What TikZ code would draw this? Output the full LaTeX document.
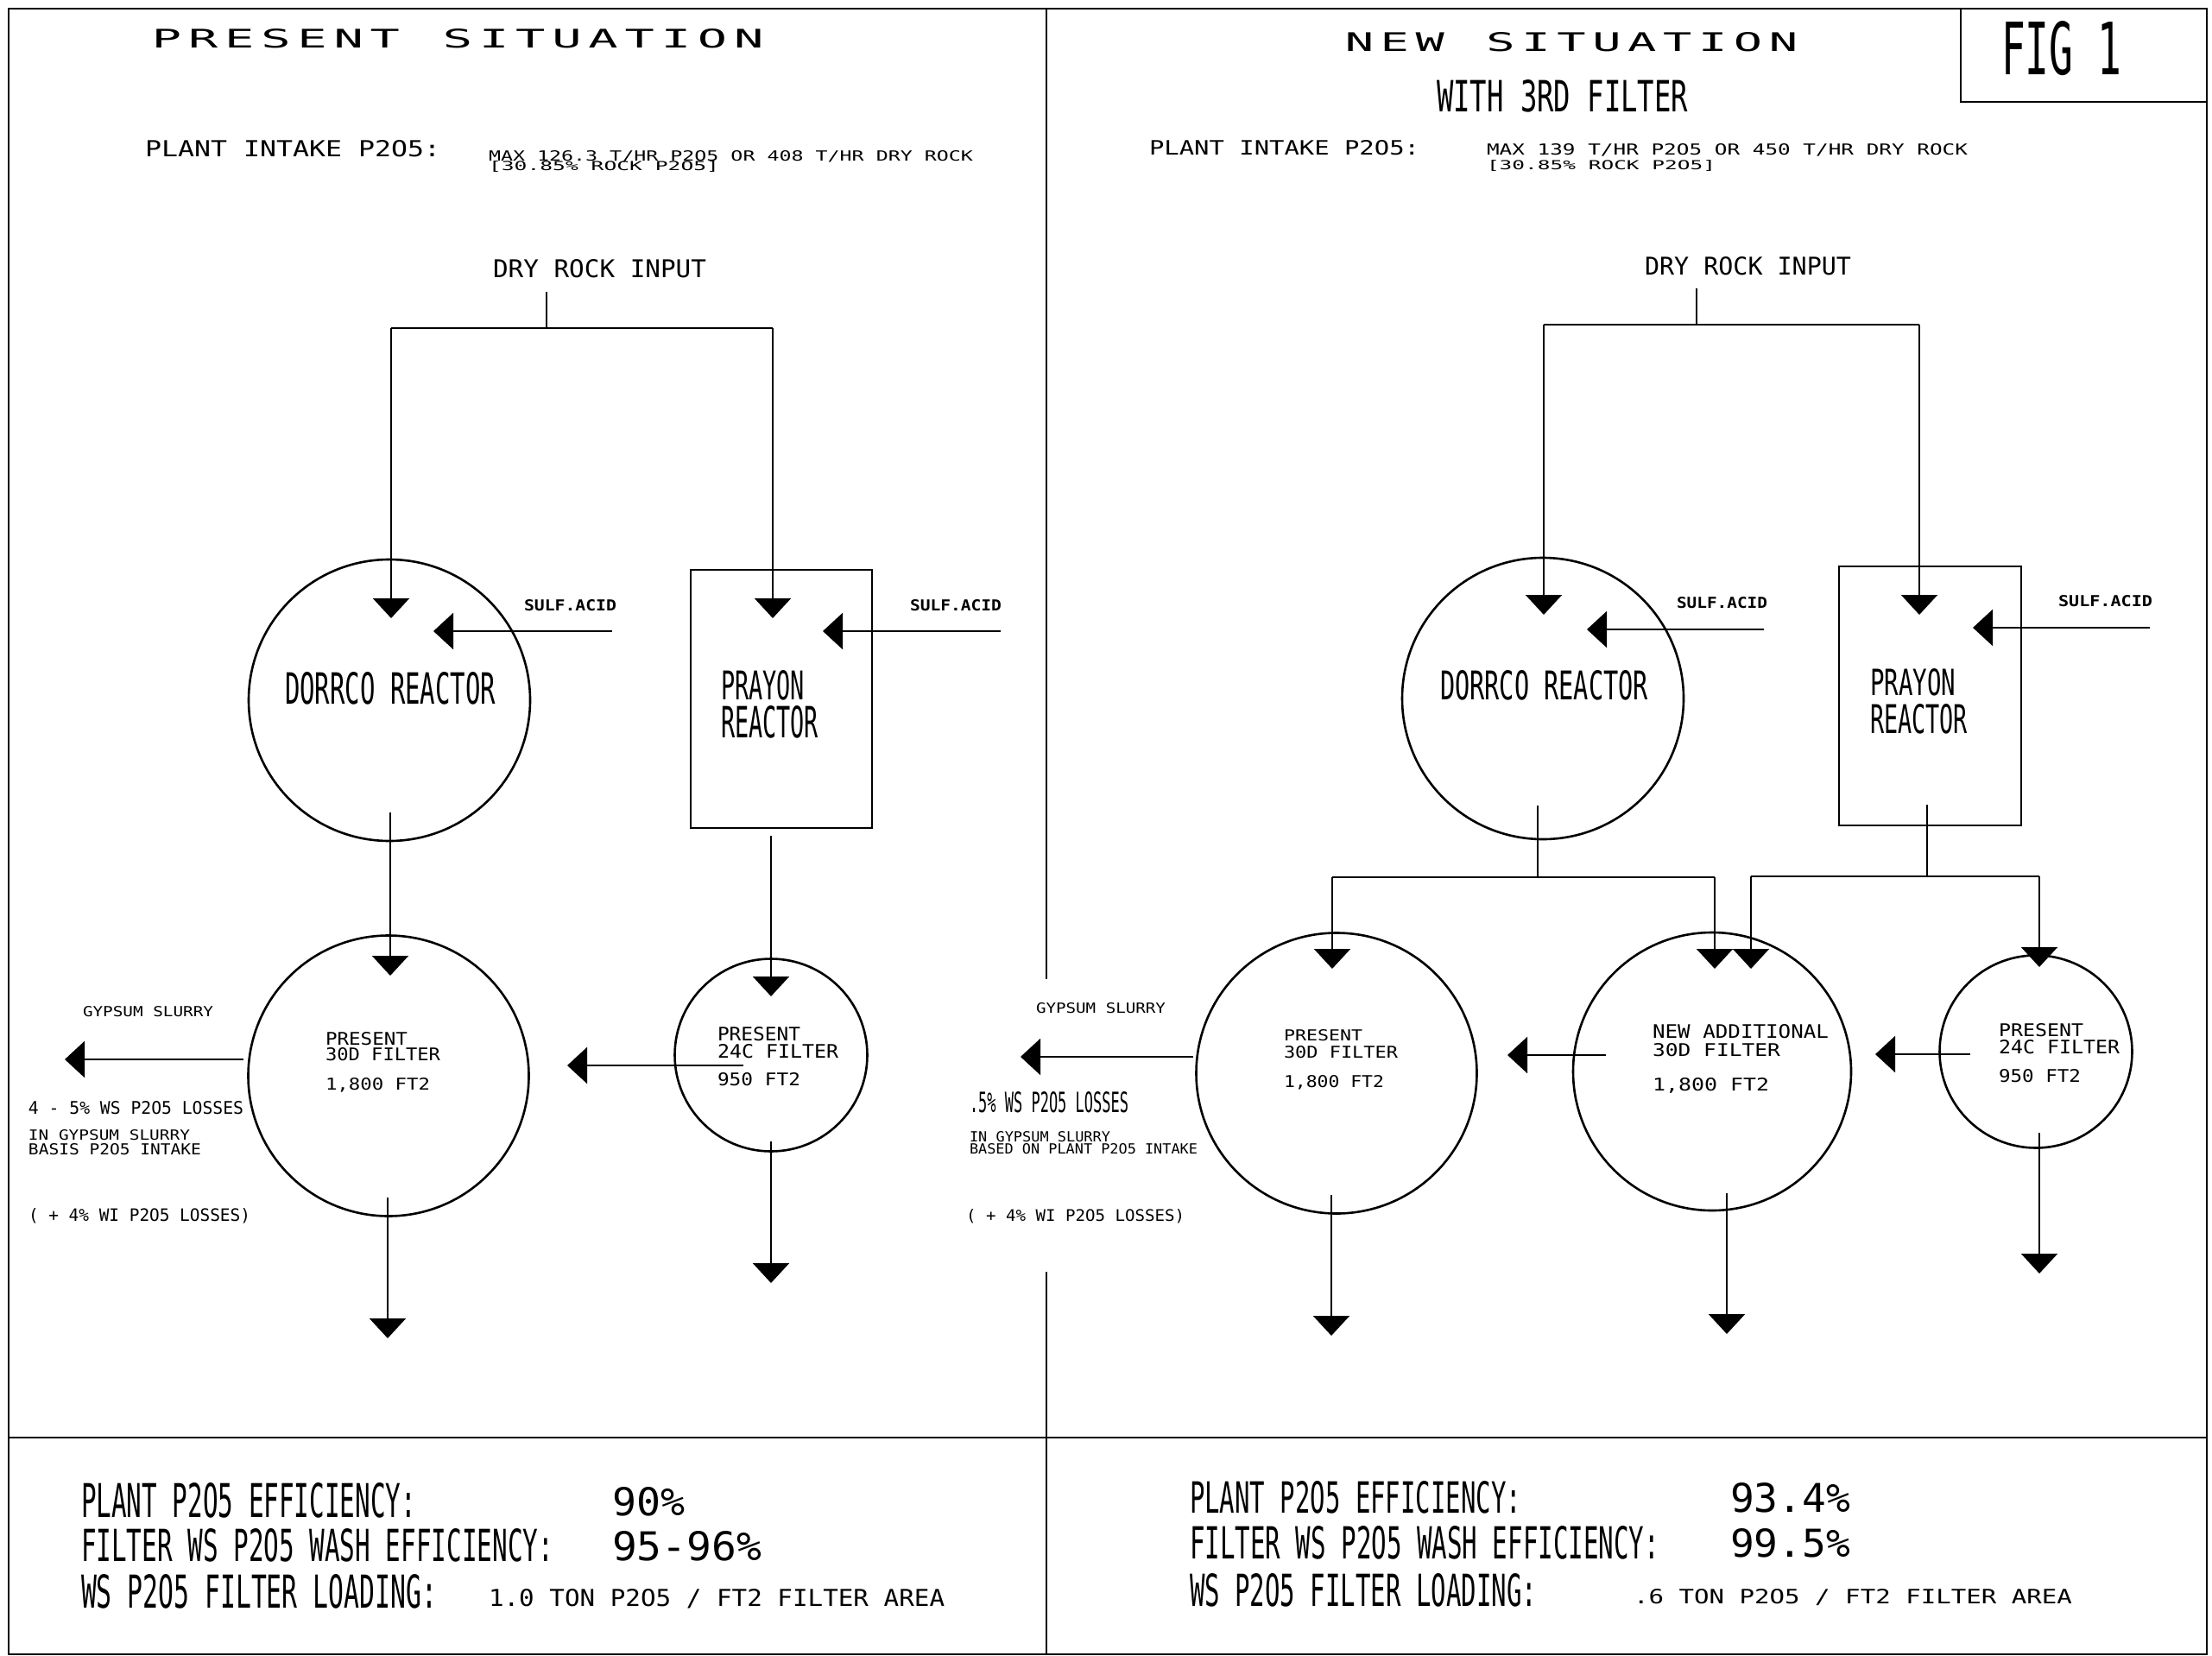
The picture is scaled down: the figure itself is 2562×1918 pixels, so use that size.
\documentclass[tikz,border=0pt]{standalone}
\usepackage{fontspec}
\usepackage{graphicx}
\usetikzlibrary{arrows.meta}
\newfontfamily\pf{DejaVu Sans Mono}
\newcommand\cb[1]{\makebox[0.74em][c]{#1}}
\newcommand\TT[6]{\node[tx] (#1) at (#2,#3) {\resizebox{#4pt}{#5pt}{\pf #6}};}
\newcommand\TB[6]{\node[tx] (#1) at (#2,#3) {\resizebox{#4pt}{#5pt}{\pf\bfseries #6}};}
\begin{document}
\begin{tikzpicture}[x=1pt,y=-1pt,
  tx/.style={anchor=base west,inner sep=0pt,outer sep=0pt},
  frame/.style={line width=2.4pt,black},
  ln/.style={line width=2.2pt,black},
  arr/.style={ln,-{Triangle[length=23pt,width=42pt]}},
  circ/.style={circle,draw,line width=2.6pt,inner sep=0pt},
  box/.style={rectangle,draw,line width=2.6pt,inner sep=0pt}]
\fill[white] (0,0) rectangle (2562,1918);
\useasboundingbox (0,0) rectangle (2562,1918);
% frame
\draw[frame] (10,10) rectangle (2556,1916);
\draw[frame] (1212,10) -- (1212,1134);
\draw[frame] (1212,1473) -- (1212,1916);
\draw[frame] (10,1665) -- (2556,1665);
\draw[frame] (2271,10) -- (2271,118) -- (2556,118);

% ---------------- LEFT: PRESENT SITUATION ----------------
\TT{tPS}{172}{56}{716}{22}{\cb{P}\cb{R}\cb{E}\cb{S}\cb{E}\cb{N}\cb{T}\cb{ }\cb{S}\cb{I}\cb{T}\cb{U}\cb{A}\cb{T}\cb{I}\cb{O}\cb{N}}
\TT{tPIL}{168}{182}{342}{19}{PLANT INTAKE P2O5:}
\TT{tMAXL}{566}{187}{561}{12}{MAX 126.3 T/HR P2O5 OR 408 T/HR DRY ROCK}
\TT{tROCKL}{566}{198}{267}{11}{[30.85\% ROCK P2O5]}
\TT{tDRL}{571}{321}{247}{21}{DRY ROCK INPUT}
\TB{tSA1}{607}{707}{107}{13}{SULF.ACID}
\TB{tSA2}{1054}{707}{106}{13}{SULF.ACID}

\node[circ,minimum size=326pt] (dorL) at (451,811) {};
\node[box,minimum width=210pt,minimum height=299pt] (prL) at (905,809.5) {};
\node[circ,minimum size=325pt] (f30L) at (450,1246) {};
\node[circ,minimum size=223pt] (f24L) at (893,1222) {};

\TT{tDorL}{330}{815}{244}{37}{DORRCO REACTOR}
\TT{tPrL1}{835}{810}{97}{34}{PRAYON}
\TT{tPrL2}{835}{854}{113}{37}{REACTOR}

\TT{tF30La}{377}{1210}{95}{15}{PRESENT}
\TT{tF30Lb}{377}{1228}{133}{15}{30D FILTER}
\TT{tF30Lc}{377}{1262}{121}{14}{1,800 FT2}
\TT{tF24La}{831}{1205}{96}{16}{PRESENT}
\TT{tF24Lb}{831}{1225}{140}{16}{24C FILTER}
\TT{tF24Lc}{831}{1257}{96}{15}{950 FT2}

\TT{tGSL}{96}{1177}{151}{12}{GYPSUM SLURRY}
\TT{tLossL}{33}{1290}{249}{15}{4 - 5\% WS P2O5 LOSSES}
\TT{tIGL}{33}{1320}{187}{12}{IN GYPSUM SLURRY}
\TT{tBasL}{33}{1337}{200}{13}{BASIS P2O5 INTAKE}
\TT{tWIL}{33}{1414}{257}{15}{( + 4\% WI P2O5 LOSSES)}

% left connectors
\coordinate (drL) at (633,338);
\coordinate (drLj) at (633,380);
\coordinate (drLa) at (453,380);
\coordinate (drLb) at (895,380);
\coordinate (dorLin) at (453,716);
\coordinate (prLin) at (895,716);
\coordinate (sa1s) at (709,731);
\coordinate (sa1e) at (502,731);
\coordinate (sa2s) at (1159,731);
\coordinate (sa2e) at (953,731);
\coordinate (dorLout) at (452,941);
\coordinate (f30Lin) at (452,1130);
\coordinate (prLout) at (893,968);
\coordinate (f24Lin) at (893,1154);
\coordinate (f24Lcake) at (861,1234);
\coordinate (f30Lwash) at (657,1234);
\coordinate (f30Lgs) at (282,1227);
\coordinate (gsL) at (75,1227);
\coordinate (f30Ldn) at (449,1387);
\coordinate (f30Lend) at (449,1550);
\coordinate (f24Ldn) at (893,1322);
\coordinate (f24Lend) at (893,1486);

\draw[ln] (drL) -- (drLj);
\draw[ln] (drLa) -- (drLb);
\draw[arr] (drLa) -- (dorLin);
\draw[arr] (drLb) -- (prLin);
\draw[arr] (sa1s) -- (sa1e);
\draw[arr] (sa2s) -- (sa2e);
\draw[arr] (dorLout) -- (f30Lin);
\draw[arr] (prLout) -- (f24Lin);
\draw[arr] (f24Lcake) -- (f30Lwash);
\draw[arr] (f30Lgs) -- (gsL);
\draw[arr] (f30Ldn) -- (f30Lend);
\draw[arr] (f24Ldn) -- (f24Lend);

% ---------------- RIGHT: NEW SITUATION ----------------
\TT{tNS}{1554}{60}{532}{22}{\cb{N}\cb{E}\cb{W}\cb{ }\cb{S}\cb{I}\cb{T}\cb{U}\cb{A}\cb{T}\cb{I}\cb{O}\cb{N}}
\TT{tW3}{1664}{130}{291}{37}{WITH 3RD FILTER}
\TT{tFIG}{2318}{87}{139}{62}{FIG 1}
\TT{tPIR}{1331}{180}{313}{17}{PLANT INTAKE P2O5:}
\TT{tMAXR}{1722}{180}{557}{13}{MAX 139 T/HR P2O5 OR 450 T/HR DRY ROCK}
\TT{tROCKR}{1722}{197}{265}{11}{[30.85\% ROCK P2O5]}
\TT{tDRR}{1905}{318}{239}{21}{DRY ROCK INPUT}
\TB{tSA3}{1942}{704}{105}{13}{SULF.ACID}
\TB{tSA4}{2384}{702}{109}{13}{SULF.ACID}

\node[circ,minimum size=326pt] (dorR) at (1787,809) {};
\node[box,minimum width=211pt,minimum height=300pt] (prR) at (2235.5,806) {};
\node[circ,minimum size=325pt] (f30R) at (1548,1243) {};
\node[circ,minimum size=322pt] (fnR) at (1983,1241) {};
\node[circ,minimum size=223pt] (f24R) at (2358,1218) {};

\TT{tDorR}{1668}{810}{241}{34}{DORRCO REACTOR}
\TT{tPrR1}{2166}{805}{99}{31}{PRAYON}
\TT{tPrR2}{2166}{849}{113}{34}{REACTOR}

\TT{tF30Ra}{1487}{1205}{91}{13}{PRESENT}
\TT{tF30Rb}{1487}{1225}{132}{14}{30D FILTER}
\TT{tF30Rc}{1487}{1259}{116}{14}{1,800 FT2}
\TT{tFnRa}{1914}{1202}{204}{16}{NEW ADDITIONAL}
\TT{tFnRb}{1914}{1223}{148}{15}{30D FILTER}
\TT{tFnRc}{1914}{1263}{135}{15}{1,800 FT2}
\TT{tF24Ra}{2315}{1200}{98}{15}{PRESENT}
\TT{tF24Rb}{2315}{1220}{140}{16}{24C FILTER}
\TT{tF24Rc}{2315}{1253}{95}{15}{950 FT2}

\TT{tGSR}{1200}{1173}{150}{12}{GYPSUM SLURRY}
\TT{tLossR}{1123}{1288}{184}{24}{.5\% WS P2O5 LOSSES}
\TT{tIGR}{1123}{1322}{163}{12}{IN GYPSUM SLURRY}
\TT{tBasR}{1123}{1336}{264}{12}{BASED ON PLANT P2O5 INTAKE}
\TT{tWIR}{1119}{1414}{253}{14}{( + 4\% WI P2O5 LOSSES)}

% right connectors
\coordinate (drR) at (1965,334);
\coordinate (drRj) at (1965,376);
\coordinate (drRa) at (1788,376);
\coordinate (drRb) at (2223,376);
\coordinate (dorRin) at (1788,712);
\coordinate (prRin) at (2223,712);
\coordinate (sa3s) at (2043,729);
\coordinate (sa3e) at (1838,729);
\coordinate (sa4s) at (2490,727);
\coordinate (sa4e) at (2285,727);
\coordinate (dorRout) at (1781,933);
\coordinate (dorRj) at (1781,1016);
\coordinate (brLa) at (1543,1016);
\coordinate (brLb) at (1986,1016);
\coordinate (f30Rin) at (1543,1122);
\coordinate (fnRin1) at (1986,1122);
\coordinate (prRout) at (2232,932);
\coordinate (prRj) at (2232,1015);
\coordinate (brRa) at (2028,1015);
\coordinate (brRb) at (2362,1015);
\coordinate (fnRin2) at (2028,1122);
\coordinate (f24Rin) at (2362,1120);
\coordinate (fnRcake) at (1860,1222);
\coordinate (f30Rwash) at (1746,1222);
\coordinate (f24Rcake) at (2282,1221);
\coordinate (fnRwash) at (2172,1221);
\coordinate (f30Rgs) at (1382,1224);
\coordinate (gsR) at (1182,1224);
\coordinate (f30Rdn) at (1542,1384);
\coordinate (f30Rend) at (1542,1547);
\coordinate (fnRdn) at (2000,1382);
\coordinate (fnRend) at (2000,1545);
\coordinate (f24Rdn) at (2362,1312);
\coordinate (f24Rend) at (2362,1475);

\draw[ln] (drR) -- (drRj);
\draw[ln] (drRa) -- (drRb);
\draw[arr] (drRa) -- (dorRin);
\draw[arr] (drRb) -- (prRin);
\draw[arr] (sa3s) -- (sa3e);
\draw[arr] (sa4s) -- (sa4e);
\draw[ln] (dorRout) -- (dorRj);
\draw[ln] (brLa) -- (brLb);
\draw[arr] (brLa) -- (f30Rin);
\draw[arr] (brLb) -- (fnRin1);
\draw[ln] (prRout) -- (prRj);
\draw[ln] (brRa) -- (brRb);
\draw[arr] (brRa) -- (fnRin2);
\draw[arr] (brRb) -- (f24Rin);
\draw[arr] (fnRcake) -- (f30Rwash);
\draw[arr] (f24Rcake) -- (fnRwash);
\draw[arr] (f30Rgs) -- (gsR);
\draw[arr] (f30Rdn) -- (f30Rend);
\draw[arr] (fnRdn) -- (fnRend);
\draw[arr] (f24Rdn) -- (f24Rend);

% ---------------- BOTTOM ----------------
\TT{tEffL}{94}{1757}{388}{40}{PLANT P2O5 EFFICIENCY:}
\TT{tEffLv}{709}{1755}{84}{33}{90\%}
\TT{tWashL}{94}{1808}{547}{38}{FILTER WS P2O5 WASH EFFICIENCY:}
\TT{tWashLv}{709}{1807}{173}{34}{95-96\%}
\TT{tLoadL}{94}{1862}{412}{39}{WS P2O5 FILTER LOADING:}
\TT{tLoadLv}{566}{1860}{528}{20}{1.0 TON P2O5 / FT2 FILTER AREA}

\TT{tEffR}{1378}{1752}{384}{37}{PLANT P2O5 EFFICIENCY:}
\TT{tEffRv}{2004}{1751}{139}{34}{93.4\%}
\TT{tWashR}{1378}{1805}{544}{38}{FILTER WS P2O5 WASH EFFICIENCY:}
\TT{tWashRv}{2004}{1803}{139}{33}{99.5\%}
\TT{tLoadR}{1378}{1860}{402}{38}{WS P2O5 FILTER LOADING:}
\TT{tLoadRv}{1892}{1857}{508}{17}{.6 TON P2O5 / FT2 FILTER AREA}
\end{tikzpicture}
\end{document}
